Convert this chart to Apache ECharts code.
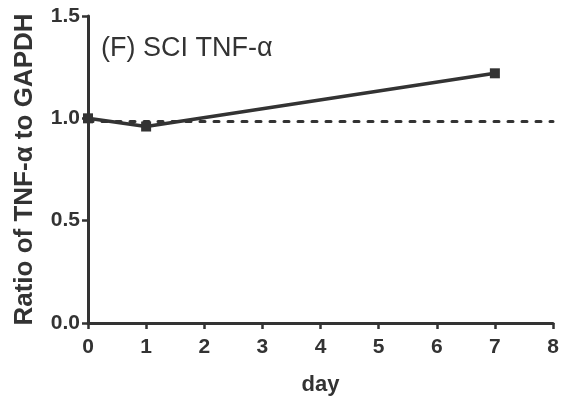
<!DOCTYPE html>
<html>
<head>
<meta charset="utf-8">
<script src="https://cdn.jsdelivr.net/npm/echarts@6/dist/echarts.min.js"></script>
<style>
  html, body { margin: 0; padding: 0; background: #fff; }
  #main { width: 572px; height: 401px; }
</style>
</head>
<body>
<div id="main"></div>
<script>
var days = [0, 1, 7];
var ratio = [1.0, 0.96, 1.22];
var baselineDays = [0, 8];
var baselineValue = [0.985, 0.985];

var ink = '#333';

var myChart = echarts.init(document.getElementById('main'));
var option = {
    animation: false,
    title: {
        text: '(F) SCI TNF-\u03b1',
        left: 96,
        top: 30,
        textStyle: { fontFamily: 'Liberation Sans', fontSize: 27, fontWeight: 'normal', color: ink }
    },
    grid: { left: 88, right: 19, top: 16, bottom: 78 },
    xAxis: {
        type: 'value',
        min: 0, max: 8, interval: 1,
        name: 'day',
        nameLocation: 'middle',
        nameGap: 51,
        nameTextStyle: { fontFamily: 'Liberation Sans', fontSize: 22, fontWeight: 'bold', color: ink },
        axisLine: { lineStyle: { color: ink, width: 3 } },
        axisTick: { length: 6, lineStyle: { color: ink, width: 2.5 } },
        axisLabel: { fontFamily: 'Liberation Sans', fontSize: 21, fontWeight: 'bold', color: ink, margin: 14 },
        splitLine: { show: false }
    },
    yAxis: {
        type: 'value',
        min: 0, max: 1.5, interval: 0.5,
        name: 'Ratio of TNF-\u03b1 to GAPDH',
        nameLocation: 'middle',
        nameGap: 50,
        nameTextStyle: { fontFamily: 'Liberation Sans', fontSize: 26, fontWeight: 'bold', color: ink },
        axisLine: { show: true, lineStyle: { color: ink, width: 3 } },
        axisTick: { show: true, length: 6, lineStyle: { color: ink, width: 2.5 } },
        axisLabel: {
            fontFamily: 'Liberation Sans', fontSize: 21, fontWeight: 'bold', color: ink, margin: 8,
            formatter: function (v) { return v.toFixed(1); }
        },
        splitLine: { show: false }
    },
    series: [
        {
            type: 'line',
            data: baselineDays.map(function (d, i) { return [d, baselineValue[i]]; }),
            symbol: 'none',
            lineStyle: { color: ink, width: 3, type: [5, 9], cap: 'round' },
            z: 1
        },
        {
            type: 'line',
            data: days.map(function (d, i) { return [d, ratio[i]]; }),
            symbol: 'rect',
            symbolSize: 10,
            itemStyle: { color: ink },
            lineStyle: { color: ink, width: 3.5 },
            z: 3
        }
    ]
};
myChart.setOption(option);
</script>
</body>
</html>
